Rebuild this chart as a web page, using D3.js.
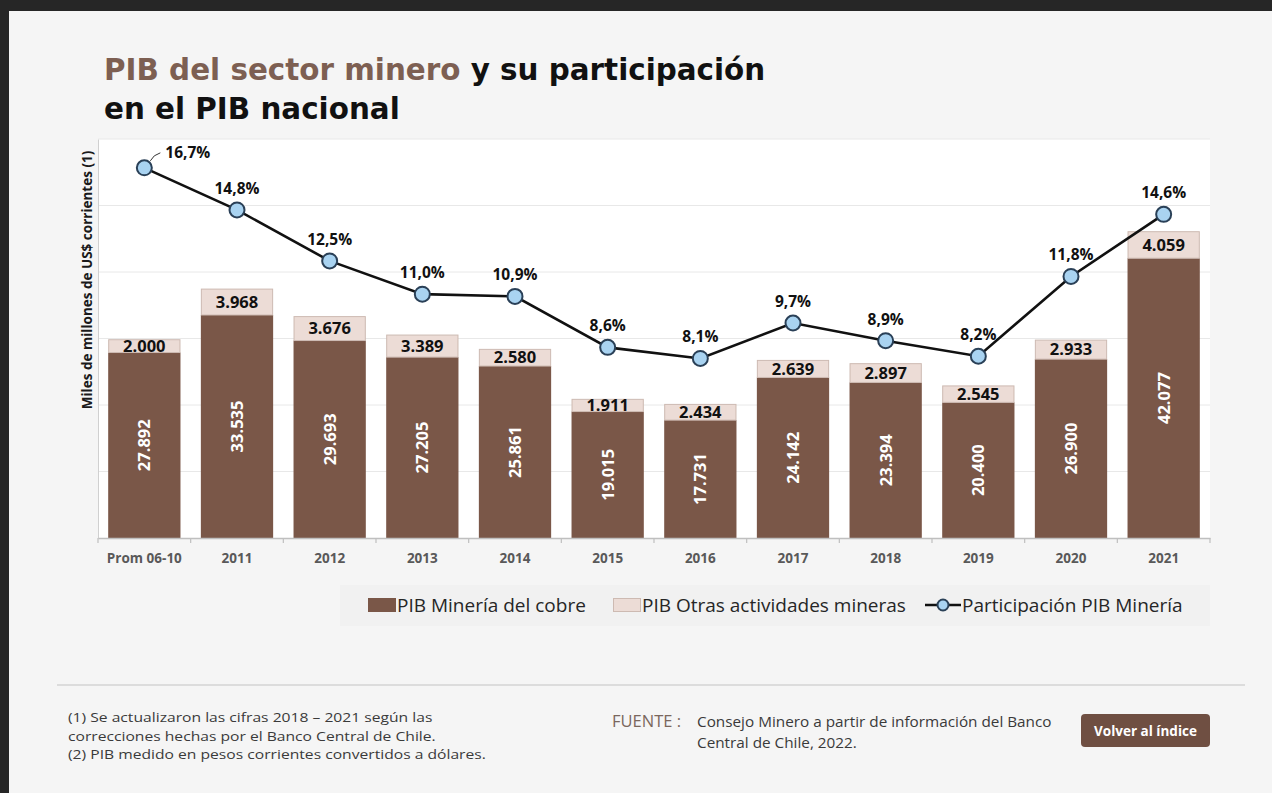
<!DOCTYPE html>
<html lang="es">
<head>
<meta charset="utf-8">
<script src="https://cdn.jsdelivr.net/npm/d3@7"></script>
<style>
  html, body { margin: 0; padding: 0; background: #f5f5f5; }
  svg { display: block; }
</style>
</head>
<body>
<svg id="chart" width="1272" height="793"></svg>
<script>
// PIB del sector minero (miles de millones de US$) y participación en el PIB nacional (%)
const categories = ["Prom 06-10", "2011", "2012", "2013", "2014", "2015", "2016", "2017", "2018", "2019", "2020", "2021"];
const pibCobre = [27892, 33535, 29693, 27205, 25861, 19015, 17731, 24142, 23394, 20400, 26900, 42077];
const pibOtras = [2000, 3968, 3676, 3389, 2580, 1911, 2434, 2639, 2897, 2545, 2933, 4059];
const participacion = [16.7, 14.8, 12.5, 11.0, 10.9, 8.6, 8.1, 9.7, 8.9, 8.2, 11.8, 14.6];
const gridTicks = [0, 10000, 20000, 30000, 40000, 50000, 60000];

const W = 1272, H = 793;
const plot = { left: 98, right: 1210, top: 139, bottom: 538 };
const COBRE = "#7a5748", OTRAS = "#ecdcd6", OTRAS_STROKE = "#cdbab2";
const FONT = "'Open Sans', Lato, sans-serif";

const locale = d3.formatLocale({ decimal: ",", thousands: ".", grouping: [3], currency: ["$", ""] });
const fmtNum = locale.format(",d");
const fmtPct = v => locale.format(".1f")(v) + "%";

const svg = d3.select("#chart");

// page frame
svg.append("rect").attr("x", 0).attr("y", 0).attr("width", W).attr("height", H).attr("fill", "#f5f5f5");
svg.append("rect").attr("x", 0).attr("y", 0).attr("width", W).attr("height", 11).attr("fill", "#262626");
svg.append("rect").attr("x", 0).attr("y", 0).attr("width", 9).attr("height", H).attr("fill", "#262626");

// title
const title = svg.append("g").attr("font-family", "'DejaVu Sans', sans-serif").attr("font-weight", "bold").attr("font-size", 29.4);
const t1 = title.append("text").attr("x", 104).attr("y", 80);
t1.append("tspan").attr("fill", "#7d5f52").text("PIB del sector minero");
t1.append("tspan").attr("fill", "#111").text(" y su participación");
title.append("text").attr("x", 104).attr("y", 119).attr("fill", "#111").text("en el PIB nacional");

// scales
const x = d3.scaleBand().domain(categories).range([plot.left, plot.right]).paddingInner(0.22).paddingOuter(0.11);
const y = d3.scaleLinear().domain([0, 60000]).range([plot.bottom, plot.top]);
const y2 = d3.scaleLinear().domain([0, 18]).range([plot.bottom, plot.top]);

// plot background
svg.append("rect").attr("x", plot.left).attr("y", plot.top).attr("width", plot.right - plot.left)
  .attr("height", plot.bottom - plot.top).attr("fill", "#ffffff");

// gridlines
svg.append("g").selectAll("line").data(gridTicks.slice(1)).join("line")
  .attr("x1", plot.left).attr("x2", plot.right)
  .attr("y1", d => y(d)).attr("y2", d => y(d))
  .attr("stroke", "#e8e8e8").attr("stroke-width", 1);

// left axis line
svg.append("g").attr("transform", `translate(${plot.left},0)`)
  .call(d3.axisLeft(y).tickValues([]).tickSizeOuter(0))
  .call(g => g.select(".domain").attr("stroke", "#d0d0d0"));

// bars
const bars = svg.append("g");
categories.forEach((c, i) => {
  bars.append("rect").attr("x", x(c)).attr("width", x.bandwidth())
    .attr("y", y(pibCobre[i])).attr("height", y(0) - y(pibCobre[i])).attr("fill", COBRE);
  bars.append("rect").attr("x", x(c) + 0.5).attr("width", x.bandwidth() - 1)
    .attr("y", y(pibCobre[i] + pibOtras[i]) + 0.5).attr("height", y(pibCobre[i]) - y(pibCobre[i] + pibOtras[i]) - 0.5)
    .attr("fill", OTRAS).attr("stroke", OTRAS_STROKE).attr("stroke-width", 1);
});

// x axis
const xAxis = svg.append("g").attr("transform", `translate(0,${plot.bottom})`)
  .call(d3.axisBottom(x).tickSize(0).tickSizeOuter(0));
xAxis.select(".domain").attr("stroke", "#bfbfbf").attr("stroke-width", 1.5);
xAxis.selectAll("text").attr("font-family", FONT).attr("font-size", 13.5).attr("font-weight", "bold")
  .attr("fill", "#595959").attr("dy", "1.6em");
// category boundary ticks
const bounds = categories.map(c => x(c) - x.step() * x.paddingInner() / 2).concat([plot.right]);
bounds[0] = plot.left;
xAxis.append("g").selectAll("line").data(bounds).join("line")
  .attr("x1", d => d).attr("x2", d => d).attr("y1", 0).attr("y2", 5)
  .attr("stroke", "#bfbfbf").attr("stroke-width", 1.2);

// bar value labels
const labels = svg.append("g").attr("font-family", FONT).attr("font-weight", "bold").attr("text-anchor", "middle");
categories.forEach((c, i) => {
  const cx = x(c) + x.bandwidth() / 2;
  const midCobre = (y(0) + y(pibCobre[i])) / 2;
  labels.append("text")
    .attr("transform", `translate(${cx},${midCobre}) rotate(-90)`)
    .attr("dy", "0.36em").attr("fill", "#ffffff").attr("font-size", 16.5)
    .text(fmtNum(pibCobre[i]));
  const midOtras = (y(pibCobre[i]) + y(pibCobre[i] + pibOtras[i])) / 2;
  labels.append("text").attr("x", cx).attr("y", midOtras).attr("dy", "0.36em")
    .attr("fill", "#111").attr("font-size", 16.5).text(fmtNum(pibOtras[i]));
});

// participation line
const lineGen = d3.line().x((d, i) => x(categories[i]) + x.bandwidth() / 2).y(d => y2(d));
svg.append("path").datum(participacion).attr("d", lineGen)
  .attr("fill", "none").attr("stroke", "#111").attr("stroke-width", 2.6);

svg.append("g").selectAll("circle").data(participacion).join("circle")
  .attr("cx", (d, i) => x(categories[i]) + x.bandwidth() / 2).attr("cy", d => y2(d)).attr("r", 7.5)
  .attr("fill", "#a9d3f1").attr("stroke", "#2a4057").attr("stroke-width", 2);

// participation labels
const pctLabels = svg.append("g").attr("font-family", FONT).attr("font-weight", "bold").attr("font-size", 15.5).attr("fill", "#111");
participacion.forEach((v, i) => {
  const cx = x(categories[i]) + x.bandwidth() / 2, cy = y2(v);
  if (i === 0) {
    pctLabels.append("path").attr("d", `M${cx + 6},${cy - 7} Q${cx + 9},${cy - 13} ${cx + 16},${cy - 15}`)
      .attr("fill", "none").attr("stroke", "#333").attr("stroke-width", 1);
    pctLabels.append("text").attr("x", cx + 21).attr("y", cy - 10).text(fmtPct(v));
  } else {
    pctLabels.append("text").attr("x", cx).attr("y", cy - 16).attr("text-anchor", "middle").text(fmtPct(v));
  }
});

// y axis title
svg.append("text").attr("transform", "translate(87,280) rotate(-90)")
  .attr("text-anchor", "middle").attr("dy", "0.35em").attr("font-family", FONT).attr("font-weight", "bold")
  .attr("font-size", 13.5).attr("fill", "#1a1a1a")
  .text("Miles de millones de US$ corrientes (1)");

// legend
const legend = svg.append("g").attr("font-family", FONT).attr("font-size", 19).attr("fill", "#262626");
legend.append("rect").attr("x", 340).attr("y", 585).attr("width", 870).attr("height", 41).attr("fill", "#f1f1f1");
legend.append("rect").attr("x", 368).attr("y", 598).attr("width", 28).attr("height", 14).attr("fill", COBRE);
legend.append("text").attr("x", 397).attr("y", 612).text("PIB Minería del cobre");
legend.append("rect").attr("x", 613.5).attr("y", 598.5).attr("width", 27).attr("height", 13)
  .attr("fill", OTRAS).attr("stroke", OTRAS_STROKE);
legend.append("text").attr("x", 642).attr("y", 612).text("PIB Otras actividades mineras");
legend.append("line").attr("x1", 925).attr("x2", 961).attr("y1", 605).attr("y2", 605).attr("stroke", "#111").attr("stroke-width", 2.4);
legend.append("circle").attr("cx", 943).attr("cy", 605).attr("r", 5.5).attr("fill", "#a9d3f1").attr("stroke", "#2a4057").attr("stroke-width", 2);
legend.append("text").attr("x", 962).attr("y", 612).text("Participación PIB Minería");

// footer
svg.append("line").attr("x1", 57).attr("x2", 1245).attr("y1", 685).attr("y2", 685).attr("stroke", "#dcdcdc").attr("stroke-width", 2);

// footnotes (slightly widened glyphs)
const notes = svg.append("g").attr("font-family", FONT).attr("font-size", 13.5).attr("fill", "#3a3a3a");
["(1) Se actualizaron las cifras 2018 – 2021 según las",
 "correcciones hechas por el Banco Central de Chile.",
 "(2) PIB medido en pesos corrientes convertidos a dólares."].forEach((t, i) => {
  notes.append("text").attr("transform", `translate(68,${722 + i * 18.5}) scale(1.16,1)`).text(t);
});

svg.append("text").attr("x", 612).attr("y", 727).attr("font-family", FONT).attr("font-size", 16.5)
  .attr("fill", "#7a675d").text("FUENTE :");
const src = svg.append("g").attr("font-family", FONT).attr("font-size", 15.3).attr("fill", "#3a3a3a");
src.append("text").attr("x", 697).attr("y", 727).text("Consejo Minero a partir de información del Banco");
src.append("text").attr("x", 697).attr("y", 748).text("Central de Chile, 2022.");

// button
svg.append("rect").attr("x", 1081).attr("y", 714).attr("width", 129).attr("height", 33).attr("rx", 4)
  .attr("fill", "#6f4f42");
svg.append("text").attr("x", 1145.5).attr("y", 735.5).attr("text-anchor", "middle").attr("font-family", FONT)
  .attr("font-weight", "bold").attr("font-size", 13.5).attr("fill", "#ffffff").text("Volver al índice");
</script>
</body>
</html>
